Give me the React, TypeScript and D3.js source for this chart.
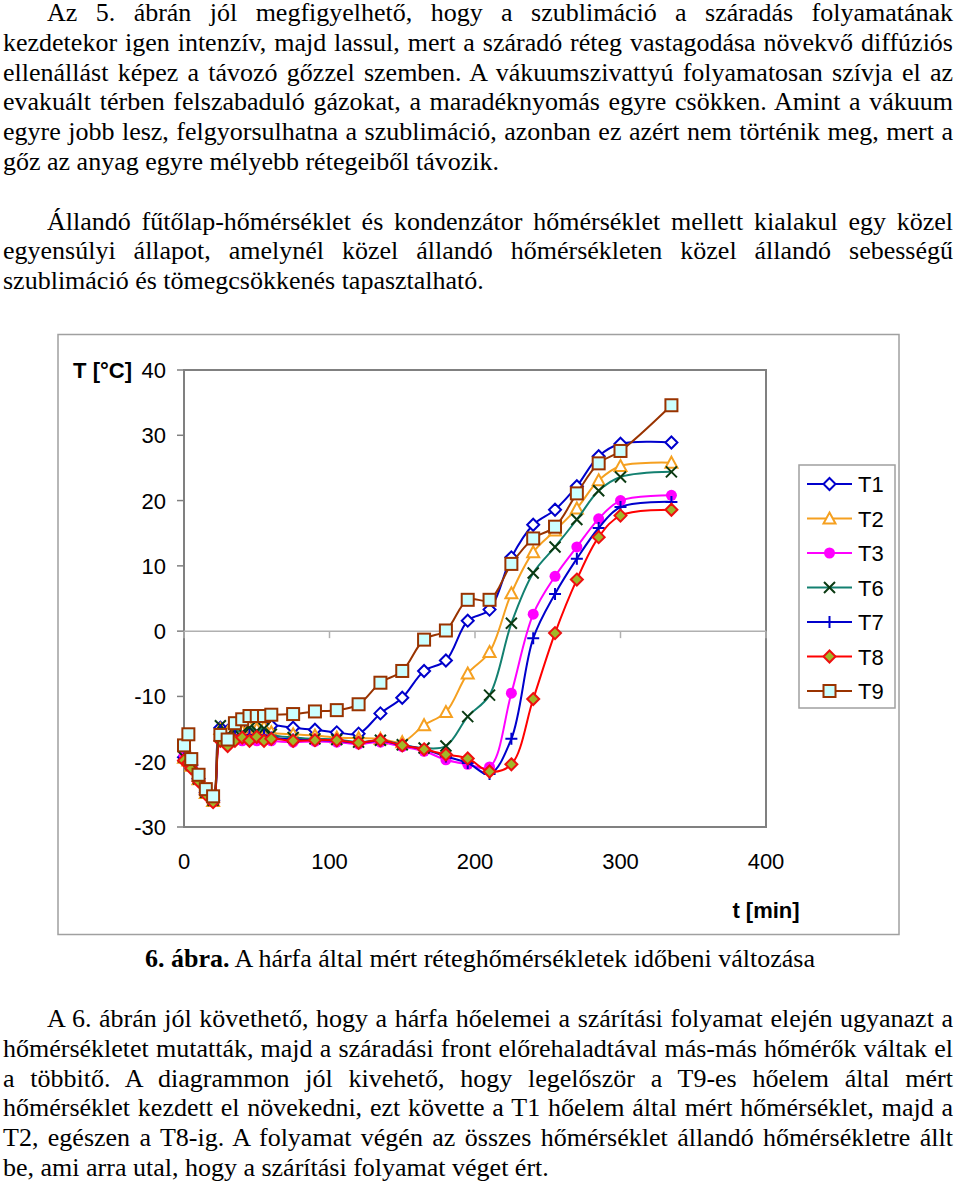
import React from "react";
import * as d3 from "d3";

// measurement times (min)
const times = [0, 3, 5, 10, 15, 20, 25, 30, 35, 40, 45, 50, 55, 60, 75, 90, 105, 120, 135, 150, 165, 180, 195, 210, 225, 240, 255, 270, 285, 300, 335];

const t1 = [-19.3, -19.7, -20.5, -22.6, -24.7, -25.9, -14.8, -15.3, -15.0, -15.2, -15.0, -15.3, -15.2, -14.5, -14.8, -15.1, -15.5, -15.7, -12.6, -10.2, -6.1, -4.5, 1.6, 3.3, 11.3, 16.3, 18.6, 22.2, 26.8, 28.7, 28.9];
const t2 = [-19.4, -19.8, -20.6, -22.7, -24.8, -26.0, -15.0, -15.5, -15.5, -15.3, -14.6, -15.0, -14.7, -15.5, -15.8, -16.0, -16.3, -16.4, -16.5, -17.0, -14.4, -12.4, -6.5, -3.2, 5.8, 12.1, 15.4, 18.8, 23.1, 25.3, 25.8];
const t3 = [-19.0, -19.6, -20.6, -22.8, -24.9, -26.1, -16.6, -17.2, -16.6, -16.8, -16.5, -16.8, -16.6, -16.8, -17.0, -16.9, -17.0, -17.3, -17.0, -17.7, -18.4, -19.7, -20.4, -20.8, -9.5, 2.6, 8.4, 12.9, 17.2, 20.0, 20.8];
const t6 = [-19.3, -19.7, -20.5, -22.6, -24.7, -25.9, -14.5, -15.8, -15.2, -15.5, -14.8, -15.3, -14.9, -15.8, -16.3, -16.5, -16.6, -17.0, -16.7, -17.4, -17.9, -17.6, -13.1, -9.8, 1.2, 8.9, 12.9, 17.1, 21.5, 23.6, 24.4];
const t7 = [-19.5, -19.9, -20.7, -22.8, -24.9, -26.1, -15.2, -16.5, -16.0, -16.2, -15.9, -16.2, -16.0, -16.3, -16.6, -16.7, -16.8, -17.1, -16.8, -17.5, -18.1, -19.2, -20.2, -21.9, -16.5, -1.1, 5.7, 11.1, 15.8, 19.0, 19.8];
const t8 = [-19.8, -20.2, -21.0, -23.0, -25.0, -26.2, -16.8, -17.6, -16.8, -16.3, -16.8, -16.2, -16.8, -16.5, -16.8, -16.7, -16.7, -17.1, -16.7, -17.5, -18.1, -18.9, -19.5, -21.5, -20.4, -10.4, -0.3, 7.9, 14.4, 17.7, 18.6];
const t9 = [-17.5, -15.8, -19.6, -22.0, -24.2, -25.3, -15.9, -16.6, -14.1, -13.5, -13.0, -13.0, -13.0, -12.8, -12.7, -12.3, -12.1, -11.2, -7.9, -6.1, -1.3, 0.1, 4.8, 4.8, 10.3, 14.2, 16.0, 21.1, 25.7, 27.6, 34.6];

const seriesNames = ["T1", "T2", "T3", "T6", "T7", "T8", "T9"];
const seriesValues = [t1, t2, t3, t6, t7, t8, t9];

const yTicks = [40, 30, 20, 10, 0, -10, -20, -30];
const xTicks = [0, 100, 200, 300, 400];

const para1 = [
  "Az 5. ábrán jól megfigyelhető, hogy a szublimáció a száradás folyamatának",
  "kezdetekor igen intenzív, majd lassul, mert a száradó réteg vastagodása növekvő diffúziós",
  "ellenállást képez a távozó gőzzel szemben. A vákuumszivattyú folyamatosan szívja el az",
  "evakuált térben felszabaduló gázokat, a maradéknyomás egyre csökken. Amint a vákuum",
  "egyre jobb lesz, felgyorsulhatna a szublimáció, azonban ez azért nem történik meg, mert a",
  "gőz az anyag egyre mélyebb rétegeiből távozik.",
];
const para2 = [
  "Állandó fűtőlap-hőmérséklet és kondenzátor hőmérséklet mellett kialakul egy közel",
  "egyensúlyi állapot, amelynél közel állandó hőmérsékleten közel állandó sebességű",
  "szublimáció és tömegcsökkenés tapasztalható.",
];
const para3 = [
  "A 6. ábrán jól követhető, hogy a hárfa hőelemei a szárítási folyamat elején ugyanazt a",
  "hőmérsékletet mutatták, majd a száradási front előrehaladtával más-más hőmérők váltak el",
  "a többitő. A diagrammon jól kivehető, hogy legelőször a T9-es hőelem által mért",
  "hőmérséklet kezdett el növekedni, ezt követte a T1 hőelem által mért hőmérséklet, majd a",
  "T2, egészen a T8-ig. A folyamat végén az összes hőmérséklet állandó hőmérsékletre állt",
  "be, ami arra utal, hogy a szárítási folyamat véget ért.",
];

const seriesStyle: Record<string, { line: string; marker: string; stroke: string; fill: string }> = {
  T1: { line: "#0000cc", marker: "diamond", stroke: "#0000cc", fill: "#ffffff" },
  T2: { line: "#f5a020", marker: "triangle", stroke: "#f5a020", fill: "#ffffff" },
  T3: { line: "#ff00ff", marker: "circle", stroke: "#ff00ff", fill: "#ff00ff" },
  T6: { line: "#138070", marker: "x", stroke: "#0b3a12", fill: "none" },
  T7: { line: "#0000cc", marker: "plus", stroke: "#0000cc", fill: "none" },
  T8: { line: "#ff0000", marker: "diamond", stroke: "#ee1010", fill: "#a0b828" },
  T9: { line: "#993300", marker: "square", stroke: "#993300", fill: "#ccffff" },
};

const sans = "'Liberation Sans', Arial, sans-serif";
const serif = "'Liberation Serif', 'Times New Roman', serif";

function Marker({ kind, x, y, stroke, fill }: { kind: string; x: number; y: number; stroke: string; fill: string }) {
  const t = `translate(${x},${y})`;
  if (kind === "diamond")
    return <path transform={t} d="M0,-6L6,0L0,6L-6,0Z" fill={fill} stroke={stroke} strokeWidth={2} />;
  if (kind === "triangle")
    return <path transform={t} d="M0,-6L6,5L-6,5Z" fill={fill} stroke={stroke} strokeWidth={2} />;
  if (kind === "circle") return <circle cx={x} cy={y} r={5.5} fill={fill} />;
  if (kind === "square")
    return <rect x={x - 6} y={y - 6} width={12} height={12} fill={fill} stroke={stroke} strokeWidth={2} />;
  if (kind === "x")
    return <path transform={t} d="M-5.5,-5.5L5.5,5.5M5.5,-5.5L-5.5,5.5" stroke={stroke} strokeWidth={2} />;
  return <path transform={t} d="M-6,0L6,0M0,-6L0,6" stroke={stroke} strokeWidth={2} />;
}

function Para({ lines, top, indent }: { lines: string[]; top: number; indent: number }) {
  return (
    <>
      {lines.map((ln, i) => {
        const last = i === lines.length - 1;
        const ind = i === 0 ? indent : 0;
        return (
          <div
            key={i}
            style={{
              position: "absolute",
              left: 3 + ind,
              width: 950 - ind,
              top: top + i * 29.7 - 23.8,
              fontFamily: serif,
              fontSize: 26,
              lineHeight: "30px",
              textAlign: "justify",
              textAlignLast: last ? "left" : "justify",
              color: "#000",
            }}
          >
            {ln}
          </div>
        );
      })}
    </>
  );
}

export default function App() {
  const x = d3.scaleLinear().domain([0, 400]).range([184, 766]);
  const y = d3.scaleLinear().domain([-30, 40]).range([827, 370]);

  const line = d3
    .line<number>()
    .x((_, i) => x(times[i]))
    .y((d) => y(d))
    .curve(d3.curveCatmullRom.alpha(0.5));

  return (
    <div style={{ position: "absolute", left: 0, top: 0, width: 960, height: 1185, background: "#fff" }}>
      <svg width={960} height={1185} style={{ position: "absolute", left: 0, top: 0 }}>
        {/* outer frame */}
        <rect x={58} y={334.5} width={841} height={600} fill="none" stroke="#a0a0a0" strokeWidth={1.5} />

        {/* plot area */}
        <rect x={184} y={370} width={582} height={457} fill="none" stroke="#808080" strokeWidth={2} />

        {/* y ticks */}
        {yTicks.map((v) => (
          <g key={v}>
            <line x1={177} x2={184} y1={y(v)} y2={y(v)} stroke="#808080" strokeWidth={1.5} />
            <text x={166} y={y(v) + 8} textAnchor="end" fontFamily={sans} fontSize={22}>
              {v}
            </text>
          </g>
        ))}
        <text x={132} y={y(40) + 8} textAnchor="end" fontFamily={sans} fontSize={22} fontWeight="bold">
          T [°C]
        </text>

        {/* x axis through zero */}
        <line x1={184} x2={766} y1={y(0)} y2={y(0)} stroke="#b0b0b0" strokeWidth={1.5} />
        {xTicks.map((v) => (
          <g key={v}>
            <line x1={x(v)} x2={x(v)} y1={y(0)} y2={y(0) + 7} stroke="#b0b0b0" strokeWidth={1.5} />
            <text x={x(v)} y={869} textAnchor="middle" fontFamily={sans} fontSize={22}>
              {v}
            </text>
          </g>
        ))}
        <text x={766} y={918} textAnchor="middle" fontFamily={sans} fontSize={22} fontWeight="bold">
          t [min]
        </text>

        {/* series */}
        {seriesNames.map((name, si) => {
          const st = seriesStyle[name];
          return (
            <g key={name}>
              <path d={line(seriesValues[si]) || ""} fill="none" stroke={st.line} strokeWidth={2} />
              {seriesValues[si].map((v, i) => (
                <Marker key={i} kind={st.marker} x={x(times[i])} y={y(v)} stroke={st.stroke} fill={st.fill} />
              ))}
            </g>
          );
        })}

        {/* legend */}
        <rect x={799} y={465} width={96} height={243} fill="#fff" stroke="#a0a0a0" strokeWidth={1.5} />
        {seriesNames.map((name, i) => {
          const st = seriesStyle[name];
          const ly = 484 + i * 34.5;
          return (
            <g key={name}>
              <line x1={807} x2={852} y1={ly} y2={ly} stroke={st.line} strokeWidth={2} />
              <Marker kind={st.marker} x={829.5} y={ly} stroke={st.stroke} fill={st.fill} />
              <text x={858} y={ly + 8} fontFamily={sans} fontSize={22}>
                {name}
              </text>
            </g>
          );
        })}
      </svg>

      <Para lines={para1} top={22} indent={44} />
      <Para lines={para2} top={230.5} indent={44} />

      <div
        style={{
          position: "absolute",
          left: 0,
          width: 960,
          top: 968 - 23.8,
          fontFamily: serif,
          fontSize: 26,
          lineHeight: "30px",
          textAlign: "center",
        }}
      >
        <b>6. ábra.</b> A hárfa által mért réteghőmérsékletek időbeni változása
      </div>

      <Para lines={para3} top={1028} indent={44} />
    </div>
  );
}
